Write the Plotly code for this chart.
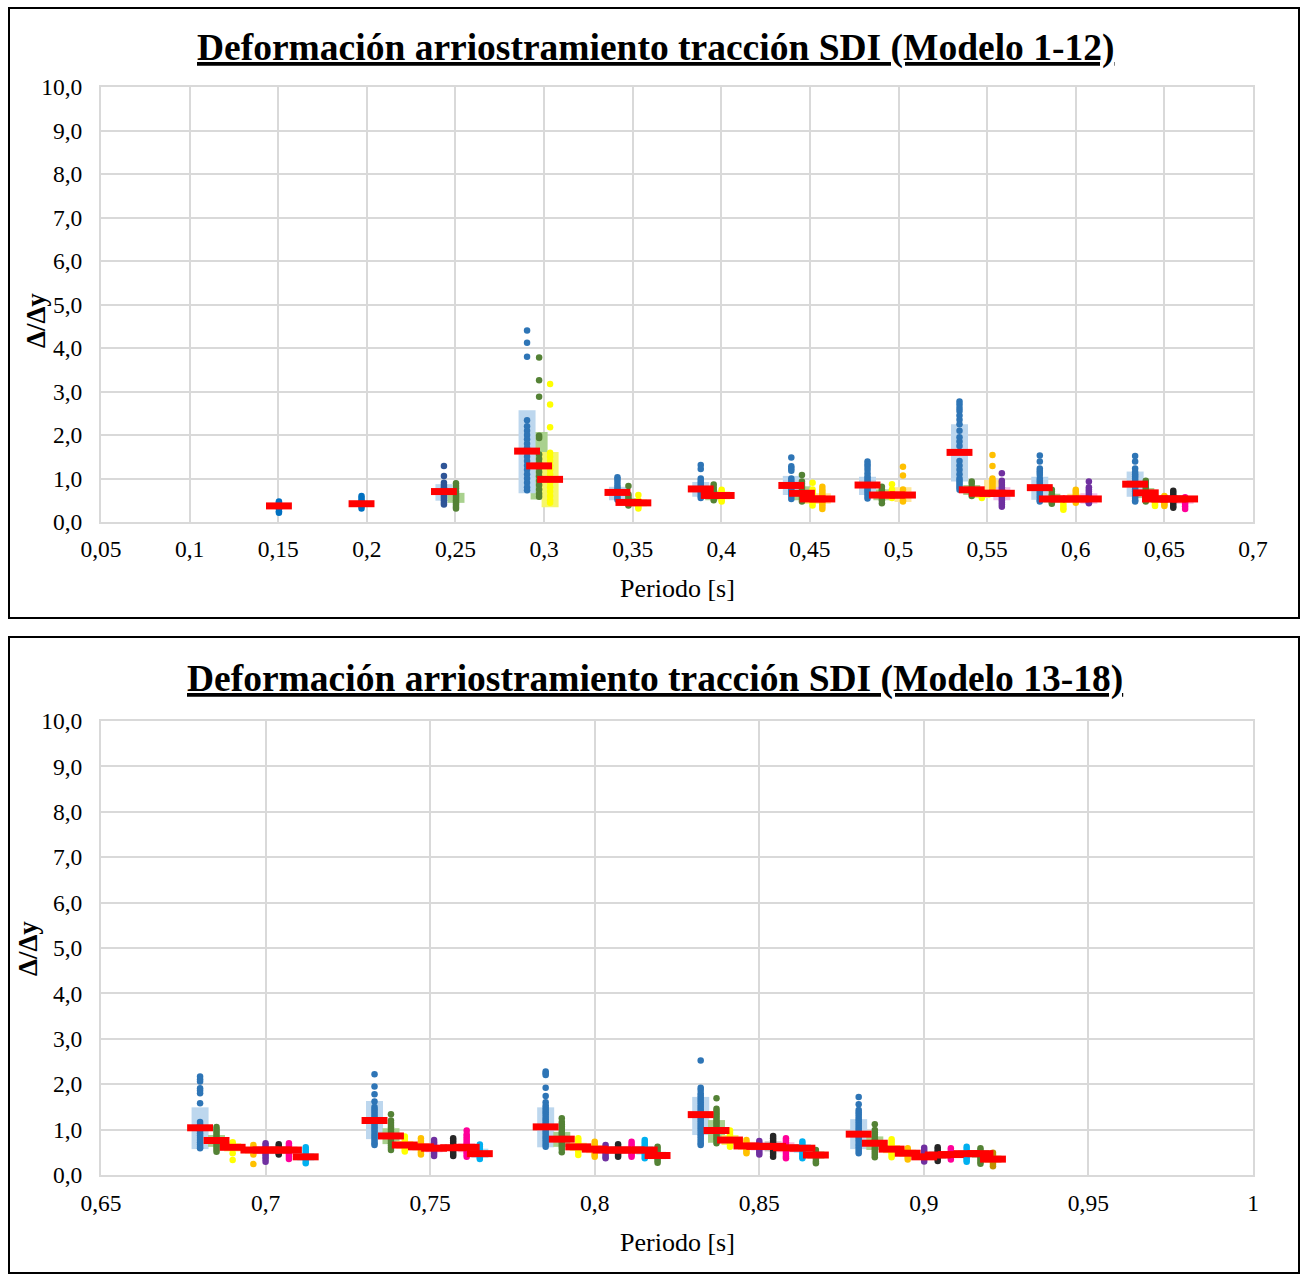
import plotly.graph_objects as go

W, H = 1300, 1274

# ---------------- DATA: chart 1 (Modelo 1-12) ----------------
top_period = [0.1504, 0.1970, 0.2435, 0.2503, 0.2904, 0.2972, 0.3034, 0.3414, 0.3476, 0.3532,
              0.3884, 0.3957, 0.4002, 0.4395, 0.4455, 0.4515, 0.4570, 0.4825, 0.4906, 0.4963,
              0.5025, 0.5344, 0.5413, 0.5470, 0.5530, 0.5583, 0.5797, 0.5865, 0.5930, 0.6000,
              0.6074, 0.6335, 0.6395, 0.6447, 0.6500, 0.6550, 0.6617]
top_series = ["b0", "b0", "b1", "g", "b", "g", "y", "b", "g", "y",
              "b", "g", "y", "b", "g", "y", "o", "b", "g", "y",
              "o", "b", "g", "y", "o", "p", "b", "g", "y", "o",
              "p", "b", "g", "y", "o", "k", "m"]
top_mean = [0.37, 0.42, 0.70, None, 1.63, 1.29, 0.98, 0.68, 0.45, 0.44,
            0.76, 0.61, 0.61, 0.84, 0.66, 0.53, 0.53, 0.85, 0.62, 0.62,
            0.62, 1.60, 0.74, 0.66, 0.66, 0.66, 0.79, 0.53, 0.53, 0.53,
            0.53, 0.87, 0.67, 0.53, 0.53, 0.53, 0.53]
top_box_lo = [None, None, 0.49, 0.44, 0.66, 0.52, 0.34, 0.50, 0.40, 0.36,
              0.58, 0.50, 0.52, 0.62, 0.50, 0.42, 0.42, 0.62, 0.50, 0.52,
              0.46, 0.93, 0.62, 0.55, 0.62, 0.50, 0.51, 0.45, 0.45, 0.45,
              0.42, 0.58, 0.55, 0.45, 0.45, 0.45, 0.42]
top_box_hi = [None, None, 0.87, 0.67, 2.57, 2.07, 1.61, 0.81, 0.55, 0.52,
              0.92, 0.72, 0.70, 1.06, 0.82, 0.64, 0.66, 1.04, 0.75, 0.72,
              0.80, 2.25, 0.85, 0.75, 0.97, 0.80, 1.04, 0.65, 0.60, 0.65,
              0.66, 1.16, 0.78, 0.62, 0.62, 0.62, 0.60]
top_points = [
    [0.21, 0.25, 0.30, 0.35, 0.40, 0.44, 0.47],
    [0.31, 0.36, 0.40, 0.45, 0.50, 0.55, 0.60],
    [1.29, 1.06, 0.90, 0.85, 0.80, 0.75, 0.70, 0.65, 0.60, 0.55, 0.50, 0.45, 0.40],
    [0.89, 0.83, 0.77, 0.70, 0.65, 0.60, 0.55, 0.50, 0.45, 0.40, 0.35, 0.31],
    [4.40, 4.12, 3.80, 2.34, 2.20, 2.10, 2.00, 1.90, 1.80, 1.70, 1.60, 1.50, 1.40, 1.30,
     1.20, 1.10, 1.00, 0.90, 0.80, 0.73],
    [3.78, 3.26, 2.88, 1.98, 1.93, 1.55, 1.45, 1.35, 1.25, 1.15, 1.05, 0.95, 0.85, 0.75,
     0.65, 0.58],
    [3.17, 2.70, 2.18, 1.59, 1.50, 1.40, 1.30, 1.20, 1.10, 1.00, 0.90, 0.80, 0.70, 0.60,
     0.50, 0.44],
    [1.03, 0.98, 0.92, 0.85, 0.80, 0.75, 0.70, 0.65, 0.60, 0.55, 0.51],
    [0.83, 0.63, 0.58, 0.53, 0.48, 0.43, 0.38],
    [0.62, 0.50, 0.45, 0.40, 0.35, 0.31],
    [1.31, 1.22, 1.00, 0.95, 0.90, 0.85, 0.80, 0.75, 0.70, 0.65, 0.60, 0.55],
    [0.86, 0.80, 0.75, 0.70, 0.65, 0.60, 0.55, 0.50],
    [0.74, 0.70, 0.65, 0.60, 0.55, 0.50, 0.47],
    [1.48, 1.28, 1.23, 1.18, 1.00, 0.95, 0.90, 0.85, 0.80, 0.75, 0.70, 0.65, 0.60, 0.53],
    [1.08, 0.93, 0.88, 0.83, 0.78, 0.73, 0.68, 0.63, 0.58, 0.53, 0.47],
    [0.90, 0.75, 0.70, 0.65, 0.60, 0.55, 0.50, 0.45, 0.38],
    [0.81, 0.75, 0.70, 0.65, 0.60, 0.55, 0.50, 0.45, 0.40, 0.35, 0.30],
    [1.39, 1.33, 1.27, 1.20, 1.12, 1.05, 1.00, 0.95, 0.90, 0.85, 0.80, 0.75, 0.70, 0.65,
     0.60, 0.54],
    [0.81, 0.75, 0.70, 0.65, 0.60, 0.55, 0.50, 0.43],
    [0.87, 0.75, 0.70, 0.65, 0.60, 0.55],
    [1.27, 1.07, 0.75, 0.70, 0.65, 0.60, 0.55, 0.50, 0.47],
    [2.77, 2.70, 2.62, 2.55, 2.45, 2.35, 2.25, 2.10, 1.95, 1.85, 1.75, 1.40, 1.30, 1.20,
     1.10, 1.00, 0.95, 0.90, 0.85, 0.80, 0.74],
    [0.93, 0.88, 0.80, 0.70, 0.65, 0.60],
    [0.70, 0.65, 0.60, 0.55],
    [1.54, 1.29, 1.00, 0.95, 0.90, 0.85, 0.80, 0.75, 0.70, 0.65],
    [1.12, 0.95, 0.90, 0.85, 0.80, 0.75, 0.70, 0.65, 0.60, 0.55, 0.50, 0.45, 0.40, 0.35],
    [1.53, 1.39, 1.23, 1.18, 1.13, 1.08, 1.00, 0.95, 0.90, 0.85, 0.80, 0.75, 0.70, 0.65,
     0.60, 0.55, 0.50, 0.47],
    [0.74, 0.70, 0.65, 0.60, 0.55, 0.50, 0.45, 0.42],
    [0.50, 0.44, 0.38, 0.32, 0.28],
    [0.74, 0.70, 0.65, 0.60, 0.55, 0.50, 0.44],
    [0.93, 0.80, 0.75, 0.70, 0.65, 0.60, 0.55, 0.50, 0.45, 0.43],
    [1.52, 1.39, 1.23, 1.15, 1.10, 1.05, 1.00, 0.95, 0.90, 0.85, 0.80, 0.75, 0.70, 0.65,
     0.60, 0.55, 0.50, 0.47],
    [0.95, 0.90, 0.85, 0.80, 0.75, 0.70, 0.65, 0.60, 0.55, 0.50, 0.47],
    [0.60, 0.55, 0.50, 0.45, 0.40, 0.37],
    [0.60, 0.55, 0.50, 0.45, 0.40, 0.37],
    [0.72, 0.67, 0.62, 0.57, 0.52, 0.47, 0.42, 0.37, 0.33],
    [0.57, 0.52, 0.47, 0.42, 0.36, 0.30],
]

# ---------------- DATA: chart 2 (Modelo 13-18) ----------------
bot_period = [0.6801, 0.6851, 0.6900, 0.6963, 0.7000, 0.7040, 0.7071, 0.7122,
              0.7331, 0.7381, 0.7423, 0.7472, 0.7512, 0.7570, 0.7611, 0.7651,
              0.7851, 0.7900, 0.7950, 0.8000, 0.8033, 0.8071, 0.8112, 0.8152, 0.8191,
              0.8322, 0.8370, 0.8411, 0.8461, 0.8500, 0.8542, 0.8581, 0.8631, 0.8672,
              0.8802, 0.8851, 0.8902, 0.8951, 0.9001, 0.9042, 0.9082, 0.9130, 0.9172, 0.9210]
bot_series = ["b", "g", "y", "o", "p", "k", "m", "c",
              "b", "g", "y", "o", "p", "k", "m", "c",
              "b", "g", "y", "o", "p", "k", "m", "c", "g",
              "b", "g", "y", "o", "p", "k", "m", "c", "g",
              "b", "g", "y", "o", "p", "k", "m", "c", "g", "br"]
bot_mean = [1.04, 0.76, 0.61, 0.55, 0.55, 0.55, 0.55, 0.40,
            1.20, 0.86, 0.66, 0.62, 0.59, 0.60, 0.61, 0.47,
            1.06, 0.79, 0.62, 0.57, 0.55, 0.55, 0.55, 0.55, 0.43,
            1.33, 0.98, 0.77, 0.64, 0.63, 0.63, 0.60, 0.59, 0.44,
            0.90, 0.70, 0.57, 0.48, 0.40, 0.44, 0.45, 0.47, 0.47, 0.35]
bot_box_lo = [0.57, 0.62, 0.52, 0.47, 0.46, 0.47, 0.46, 0.32,
              0.79, 0.68, 0.58, 0.54, 0.50, 0.53, 0.50, 0.38,
              0.61, 0.62, 0.53, 0.48, 0.47, 0.47, 0.47, 0.45, 0.35,
              0.88, 0.71, 0.66, 0.55, 0.54, 0.52, 0.50, 0.49, 0.36,
              0.57, 0.55, 0.48, 0.40, 0.33, 0.36, 0.38, 0.39, 0.38, 0.27]
bot_box_hi = [1.49, 0.88, 0.70, 0.62, 0.63, 0.63, 0.63, 0.48,
              1.63, 1.03, 0.75, 0.70, 0.67, 0.68, 0.70, 0.58,
              1.49, 0.95, 0.71, 0.66, 0.63, 0.63, 0.64, 0.64, 0.51,
              1.72, 1.21, 0.88, 0.73, 0.72, 0.74, 0.72, 0.68, 0.52,
              1.23, 0.85, 0.66, 0.56, 0.48, 0.52, 0.53, 0.55, 0.55, 0.43]
bot_points = [
    [2.17, 2.11, 2.06, 1.91, 1.86, 1.80, 1.58, 1.17, 1.12, 1.07, 1.02, 0.97, 0.92, 0.87,
     0.82, 0.77, 0.72, 0.67, 0.62, 0.59],
    [1.06, 1.01, 0.96, 0.91, 0.86, 0.81, 0.76, 0.71, 0.66, 0.61, 0.56, 0.51],
    [0.72, 0.67, 0.62, 0.57, 0.48, 0.33],
    [0.66, 0.61, 0.56, 0.51, 0.45, 0.24],
    [0.70, 0.65, 0.60, 0.55, 0.50, 0.45, 0.40, 0.35, 0.29],
    [0.68, 0.63, 0.58, 0.53, 0.48, 0.45],
    [0.70, 0.65, 0.60, 0.55, 0.50, 0.45, 0.40, 0.35],
    [0.61, 0.56, 0.51, 0.46, 0.41, 0.36, 0.31, 0.26],
    [2.22, 1.95, 1.78, 1.62, 1.50, 1.45, 1.40, 1.35, 1.30, 1.25, 1.20, 1.15, 1.10, 1.05,
     1.00, 0.95, 0.90, 0.85, 0.80, 0.75, 0.70, 0.66],
    [1.34, 1.20, 1.15, 1.10, 1.05, 1.00, 0.95, 0.90, 0.85, 0.80, 0.75, 0.70, 0.65, 0.60, 0.55],
    [0.85, 0.80, 0.75, 0.70, 0.65, 0.60, 0.55, 0.52],
    [0.81, 0.75, 0.70, 0.65, 0.60, 0.55, 0.50, 0.45],
    [0.77, 0.72, 0.67, 0.62, 0.57, 0.52, 0.47, 0.42],
    [0.81, 0.76, 0.71, 0.66, 0.61, 0.56, 0.51, 0.46, 0.42],
    [0.98, 0.90, 0.85, 0.80, 0.75, 0.70, 0.65, 0.60, 0.55, 0.50, 0.45, 0.40],
    [0.67, 0.62, 0.57, 0.52, 0.47, 0.42, 0.38, 0.35],
    [2.28, 2.24, 2.20, 1.92, 1.74, 1.60, 1.53, 1.48, 1.43, 1.38, 1.33, 1.28, 1.23, 1.18,
     1.13, 1.08, 1.03, 0.98, 0.93, 0.88, 0.83, 0.78, 0.73, 0.68, 0.62],
    [1.25, 1.17, 1.12, 1.07, 1.02, 0.97, 0.92, 0.87, 0.82, 0.77, 0.72, 0.67, 0.62, 0.57, 0.50],
    [0.81, 0.76, 0.71, 0.66, 0.61, 0.56, 0.51, 0.44],
    [0.73, 0.68, 0.63, 0.58, 0.53, 0.48, 0.44, 0.40],
    [0.66, 0.61, 0.56, 0.51, 0.46, 0.41, 0.37],
    [0.68, 0.63, 0.58, 0.53, 0.48, 0.44, 0.40],
    [0.73, 0.68, 0.63, 0.58, 0.53, 0.48, 0.44, 0.40],
    [0.77, 0.72, 0.67, 0.62, 0.57, 0.52, 0.47, 0.42, 0.37],
    [0.62, 0.57, 0.52, 0.47, 0.42, 0.37, 0.32, 0.27],
    [2.52, 1.92, 1.87, 1.80, 1.75, 1.70, 1.65, 1.60, 1.55, 1.50, 1.45, 1.40, 1.35, 1.30,
     1.25, 1.20, 1.15, 1.10, 1.05, 1.00, 0.95, 0.90, 0.85, 0.80, 0.75, 0.70, 0.66],
    [1.69, 1.46, 1.41, 1.36, 1.31, 1.26, 1.21, 1.16, 1.11, 1.06, 1.01, 0.96, 0.91, 0.86,
     0.81, 0.76, 0.70],
    [0.98, 0.93, 0.88, 0.83, 0.78, 0.73, 0.68, 0.62],
    [0.77, 0.72, 0.67, 0.62, 0.57, 0.52, 0.48],
    [0.75, 0.70, 0.65, 0.60, 0.55, 0.50, 0.45],
    [0.86, 0.81, 0.76, 0.71, 0.66, 0.61, 0.56, 0.51, 0.46, 0.40],
    [0.81, 0.76, 0.71, 0.66, 0.61, 0.56, 0.51, 0.46, 0.41, 0.37],
    [0.74, 0.69, 0.64, 0.59, 0.54, 0.49, 0.44, 0.40, 0.37],
    [0.55, 0.50, 0.45, 0.40, 0.35, 0.30, 0.26],
    [1.72, 1.56, 1.43, 1.38, 1.33, 1.28, 1.23, 1.18, 1.13, 1.08, 1.03, 0.98, 0.93, 0.88,
     0.83, 0.78, 0.73, 0.68, 0.63, 0.58, 0.53, 0.48],
    [1.12, 0.99, 0.94, 0.89, 0.84, 0.79, 0.74, 0.69, 0.64, 0.59, 0.54, 0.49, 0.44, 0.39],
    [0.79, 0.74, 0.69, 0.64, 0.59, 0.54, 0.49, 0.44, 0.39],
    [0.59, 0.54, 0.49, 0.44, 0.39, 0.34],
    [0.60, 0.55, 0.50, 0.45, 0.40, 0.35, 0.30],
    [0.61, 0.56, 0.51, 0.46, 0.41, 0.36, 0.31],
    [0.59, 0.54, 0.49, 0.44, 0.39, 0.34],
    [0.62, 0.57, 0.52, 0.47, 0.42, 0.37, 0.33, 0.29],
    [0.59, 0.54, 0.49, 0.44, 0.39, 0.34, 0.29, 0.25],
    [0.49, 0.44, 0.39, 0.34, 0.29, 0.24, 0.19],
]

# ---------------- tick labels / texts ----------------
y_tickvals = [0, 1, 2, 3, 4, 5, 6, 7, 8, 9, 10]
y_ticktext = ["0,0", "1,0", "2,0", "3,0", "4,0", "5,0", "6,0", "7,0", "8,0", "9,0", "10,0"]
top_xtickvals = [0.05, 0.1, 0.15, 0.2, 0.25, 0.3, 0.35, 0.4, 0.45, 0.5, 0.55, 0.6, 0.65, 0.7]
top_xticktext = ["0,05", "0,1", "0,15", "0,2", "0,25", "0,3", "0,35", "0,4", "0,45", "0,5",
                 "0,55", "0,6", "0,65", "0,7"]
bot_xtickvals = [0.65, 0.7, 0.75, 0.8, 0.85, 0.9, 0.95, 1.0]
bot_xticktext = ["0,65", "0,7", "0,75", "0,8", "0,85", "0,9", "0,95", "1"]
title_top = "Deformación arriostramiento tracción SDI (Modelo 1-12)"
title_bot = "Deformación arriostramiento tracción SDI (Modelo 13-18)"
ytitle = "Δ/Δy"
xtitle = "Periodo [s]"

# ---------------- styles ----------------
DOT = {"b0": "#0070C0", "b1": "#2F5597", "b": "#2E75B6", "g": "#548235", "y": "#FFFF00",
       "o": "#FFC000", "p": "#7030A0", "k": "#262626", "m": "#FF0099", "c": "#00B0F0",
       "br": "#BF8F00"}
BOX = {"b0": "#BDD7EE", "b1": "#BDD7EE", "b": "#BDD7EE", "g": "#A9D18E", "y": "#F6F66A",
       "o": "#FFE699", "p": "#F0BDEA", "k": "#BFBFBF", "m": "#F9B8DD", "c": "#A6E0F8",
       "br": "#E2C97A"}
FONT = "Liberation Serif, Times New Roman, serif"

fig = go.Figure()


def add_chart(periods, series, means, los, his, points, xa, ya):
    order = []
    for s in series:
        if s not in order:
            order.append(s)
    # boxes (dispersion band), drawn as thick vertical segments
    for key in order:
        xs, ys = [], []
        for p, s, lo, hi in zip(periods, series, los, his):
            if s == key and lo is not None:
                xs += [p, p, None]
                ys += [lo, hi, None]
        if xs:
            fig.add_trace(go.Scatter(x=xs, y=ys, mode="lines", xaxis=xa, yaxis=ya,
                                     line=dict(color=BOX[key], width=17),
                                     hoverinfo="skip", showlegend=False))
    # individual points
    for key in order:
        xs, ys = [], []
        for p, s, pts in zip(periods, series, points):
            if s == key:
                xs += [p] * len(pts)
                ys += pts
        fig.add_trace(go.Scatter(x=xs, y=ys, mode="markers", xaxis=xa, yaxis=ya,
                                 marker=dict(color=DOT[key], size=6.5, line=dict(width=0)),
                                 showlegend=False))
    # mean (red bars)
    mx = [p for p, m in zip(periods, means) if m is not None]
    my = [m for m in means if m is not None]
    fig.add_trace(go.Scatter(x=mx, y=my, mode="markers", xaxis=xa, yaxis=ya,
                             marker=dict(symbol="line-ew", size=18.5,
                                         line=dict(color="#FF0000", width=7)),
                             showlegend=False))


add_chart(top_period, top_series, top_mean, top_box_lo, top_box_hi, top_points, "x", "y")
add_chart(bot_period, bot_series, bot_mean, bot_box_lo, bot_box_hi, bot_points, "x2", "y2")

GRID = "#D9D9D9"
axis_common = dict(showgrid=True, gridcolor=GRID, gridwidth=2, zeroline=False,
                   showline=True, linecolor=GRID, linewidth=2, mirror=True,
                   ticks="", tickfont=dict(family=FONT, size=23.5, color="#000000"),
                   fixedrange=True, automargin=False)

fig.update_layout(
    template="none",
    width=W, height=H, margin=dict(l=0, r=0, t=0, b=0, pad=0, autoexpand=False),
    paper_bgcolor="white", plot_bgcolor="white", showlegend=False,
    xaxis=dict(domain=[101 / W, 1253 / W], range=[0.05, 0.7], anchor="y",
               tickvals=top_xtickvals, ticktext=top_xticktext, ticklabelstandoff=5,
               **axis_common),
    yaxis=dict(domain=[1 - 522 / H, 1 - 87 / H], range=[0, 10], anchor="x",
               tickvals=y_tickvals, ticktext=y_ticktext, ticklabelstandoff=12,
               **axis_common),
    xaxis2=dict(domain=[101 / W, 1253 / W], range=[0.65, 1.0], anchor="y2",
                tickvals=bot_xtickvals, ticktext=bot_xticktext, ticklabelstandoff=6,
                **axis_common),
    yaxis2=dict(domain=[1 - 1175 / H, 1 - 721 / H], range=[0, 10], anchor="x2",
                tickvals=y_tickvals, ticktext=y_ticktext, ticklabelstandoff=12,
                **axis_common),
)

# frames
for (y0, y1) in [(8, 618), (637, 1273)]:
    fig.add_shape(type="rect", xref="paper", yref="paper",
                  x0=9 / W, x1=1299 / W, y0=1 - y1 / H, y1=1 - y0 / H,
                  line=dict(color="#000000", width=2), fillcolor="rgba(0,0,0,0)", layer="above")

ann = []
for txt, yc in [(title_top, 48), (title_bot, 679)]:
    ann.append(dict(text="<b><u>" + txt + "</u></b>", x=655 / W, y=1 - yc / H,
                    xref="paper", yref="paper", showarrow=False, xanchor="center",
                    yanchor="middle", font=dict(family=FONT, size=37.5, color="#000000")))
for xc, yc in [(36, 321), (28, 949)]:
    ann.append(dict(text="<b>" + ytitle + "</b>", x=xc / W, y=1 - yc / H, textangle=-90,
                    xref="paper", yref="paper", showarrow=False, xanchor="center",
                    yanchor="middle", font=dict(family=FONT, size=27, color="#000000")))
for yc in [588, 1242]:
    ann.append(dict(text=xtitle, x=677 / W, y=1 - yc / H, xref="paper", yref="paper",
                    showarrow=False, xanchor="center", yanchor="middle",
                    font=dict(family=FONT, size=26, color="#000000")))
fig.update_layout(annotations=ann)

fig.write_html("out.html")
